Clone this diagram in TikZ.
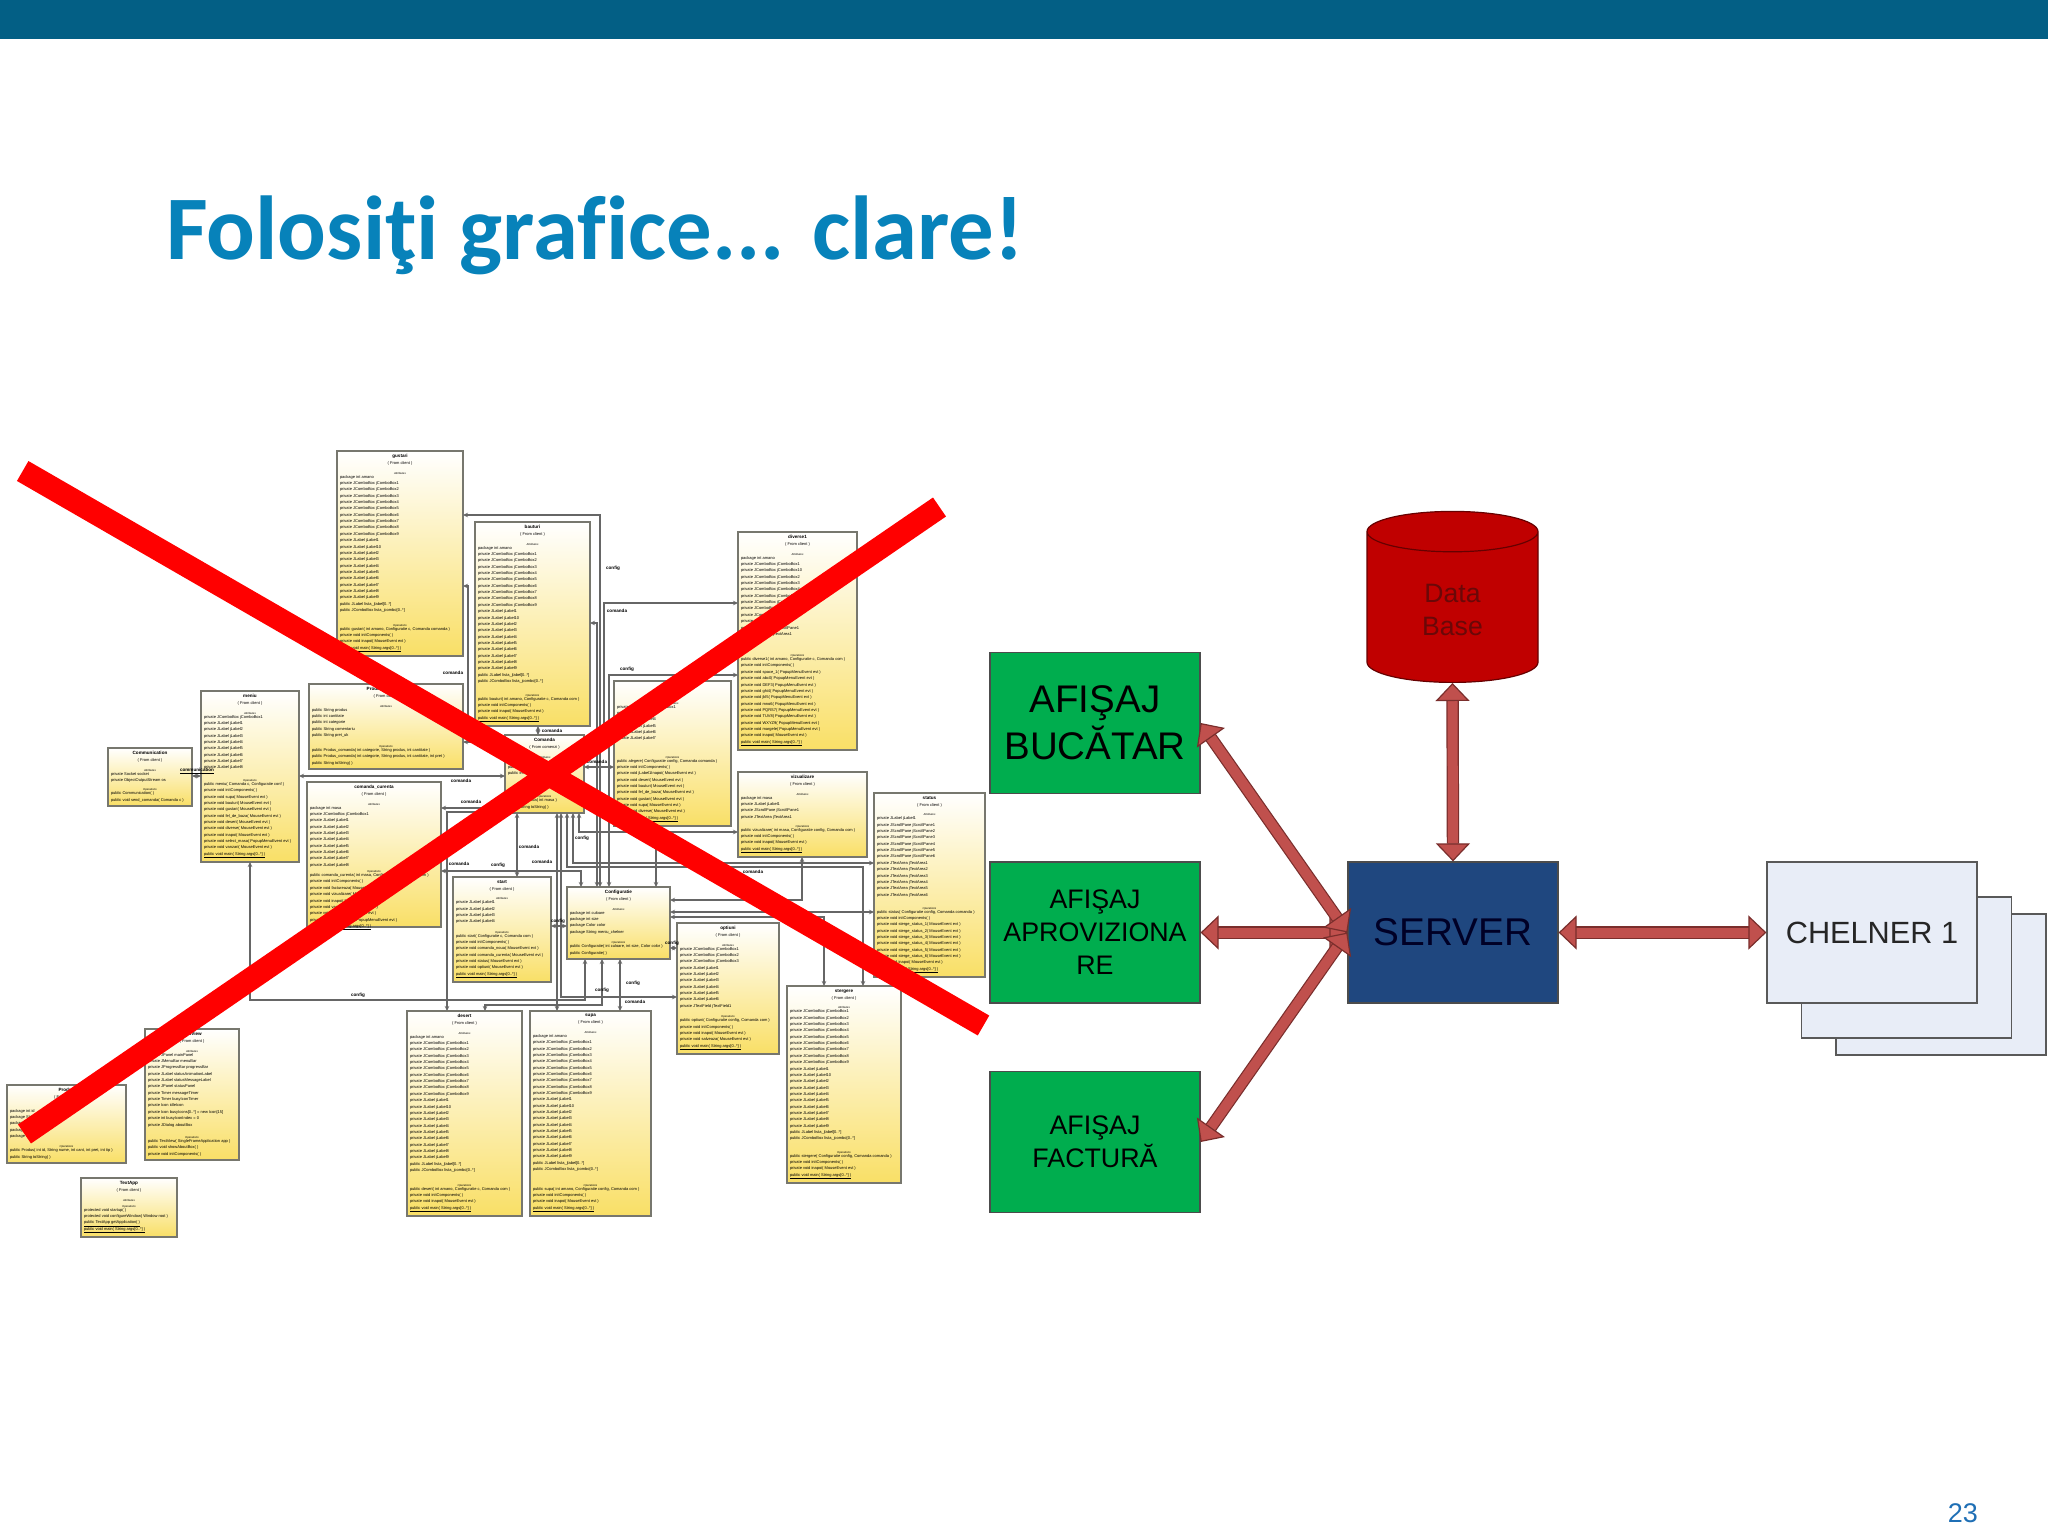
\documentclass[tikz,border=0pt]{standalone}
\usepackage{fontspec}
\setmainfont{Liberation Sans}
\newfontfamily\titlefont[Ligatures=CommonOff]{Carlito}
\usetikzlibrary{arrows.meta,shapes.geometric}

\definecolor{bandblue}{HTML}{035F85}
\definecolor{titleblue}{HTML}{0782BA}
\definecolor{pageblue}{HTML}{1F6FB5}
\definecolor{boxgreen}{HTML}{00AD4E}
\definecolor{serverblue}{HTML}{1F477F}
\definecolor{chelnerfill}{HTML}{E8EDF7}
\definecolor{dbred}{HTML}{C00000}
\definecolor{dbtext}{HTML}{6A0808}
\definecolor{arrowred}{HTML}{C0504D}
\definecolor{arrowdark}{HTML}{7A2E2C}
\definecolor{umlyellow}{HTML}{F9DF66}
\definecolor{umlgray}{HTML}{77776E}
\definecolor{linkgray}{HTML}{666666}

\tikzset{
	bigbox/.style={draw=black!70,line width=1.2pt,minimum width=210pt,minimum height=141pt,align=center},
	greenbox/.style={bigbox,fill=boxgreen,text=black},
	chelnerbox/.style={bigbox,fill=chelnerfill,draw=black!65},
	bigarrow/.style={draw=arrowdark,line width=1.2pt,double=arrowred,double distance=10pt,
		{Triangle[width=34pt,length=18pt,line width=1.2pt,fill=arrowred,color=arrowdark]}-{Triangle[width=34pt,length=18pt,line width=1.2pt,fill=arrowred,color=arrowdark]}},
	classbox/.style={draw=umlgray,line width=1.3pt,top color=white,bottom color=umlyellow,anchor=north west,inner xsep=3pt,inner ysep=1.5pt,outer sep=0pt},
	link/.style={draw=linkgray,line width=1.1pt,{Stealth[length=5pt,width=4.5pt]}-{Stealth[length=5pt,width=4.5pt]}},
	linklabel/.style={font=\fontsize{4.6}{5}\selectfont\bfseries},
	crossline/.style={draw=red,line width=23pt},
}

% one line of a class, the little section captions, and a whole class
\newcommand{\cln}[1]{\hbox{#1}}
\newcommand{\clcap}[1]{\hbox to\hsize{\hfil\fontsize{2.8}{6.35}\selectfont\itshape #1\hfil}}
\newcommand{\clops}{\vfill\clcap{Operations}\vskip-2.4pt}
\newcommand{\umlclass}[6][client]{%
	\node[classbox,minimum width=#4pt,minimum height=#5pt] (#2) at (#3) {\parbox[t][\dimexpr#5pt-3pt\relax][t]{\dimexpr#4pt-6pt\relax}{%
		\fontsize{4}{6.35}\selectfont
		\vskip1.5pt
		\hbox to\hsize{\hfil\fontsize{4.6}{6.35}\selectfont\bfseries\csname classtitle\endcsname\hfil}
		\vskip0.9pt
		\hbox to\hsize{\hfil( From #1 )\hfil}
		\vskip3.3pt
		\clcap{Attributes}
		\vskip-2.4pt
		#6
		\vskip2.5pt}};}
\newcommand{\combos}[1]{\foreach \i in {#1} {\cln{private JComboBox jComboBox\i}}}
\newcommand{\labels}[1]{\foreach \i in {#1} {\cln{private JLabel jLabel\i}}}
\newcommand{\listas}{\cln{public JLabel lista\_jlabel[0..*]}\cln{public JComboBox lista\_jcombo[0..*]}}
\newcommand{\foodattrs}{\combos{1,2,3,4,5,6,7,8,9}\labels{1,10,2,3,4,5,6,7,8,9}\listas}
\newcommand{\clinit}{\cln{private void initComponents( )}}
\newcommand{\clback}{\cln{private void inapoi( MouseEvent evt )}}
\newcommand{\clmain}{\cln{\underline{public void main( String args[0..*] )}}}

\begin{document}
\begin{tikzpicture}[x=1pt,y=-1pt]
	\fill[white] (0,0) rectangle (2048,1536);
	\useasboundingbox (0,0) rectangle (2048,1536);
	\fill[bandblue] (0,0) rectangle (2048,39);
	\node [anchor=base west,inner sep=0pt,text=titleblue,font=\titlefont\fontsize{90.8}{92}\selectfont\bfseries] (title) at (166,259) {Folosiţi grafice... clare!};
	\node [anchor=base east,inner sep=0pt,text=pageblue,font=\fontsize{27}{30}\selectfont] (pagenr) at (1978,1522) {23};

	% the class diagram
	\def\classtitle{gustari}
	\umlclass{gustari}{337,451}{126}{205}{\cln{package int amano}\foodattrs\clops\cln{public gustari( int amano, Configuratie c, Comanda comanda )}\clinit\clback\clmain}
	\def\classtitle{bauturi}
	\umlclass{bauturi}{475,522}{115}{204}{\cln{package int amano}\foodattrs\clops\cln{public bauturi( int amano, Configuratie c, Comanda com )}\clinit\clback\clmain}
	\def\classtitle{diverse1}
	\umlclass{diverse}{738,532}{119}{218}{\cln{package int amano}\combos{1,10,2,3,4,5,6,7,8}\labels{1}\cln{private JScrollPane jScrollPane1}\cln{private JTextArea jTextArea1}\clops\cln{public diverse1( int amano, Configuratie c, Comanda com )}\clinit\cln{private void space\_1( PopupMenuEvent evt )}\cln{private void abc0( PopupMenuEvent evt )}\cln{private void DEF3( PopupMenuEvent evt )}\cln{private void ghi4( PopupMenuEvent evt )}\cln{private void jkl5( PopupMenuEvent evt )}\cln{private void mno6( PopupMenuEvent evt )}\cln{private void PQRS7( PopupMenuEvent evt )}\cln{private void TUV8( PopupMenuEvent evt )}\cln{private void WXYZ9( PopupMenuEvent evt )}\cln{private void margele( PopupMenuEvent evt )}\clback\clmain}
	\def\classtitle{vizualizare}
	\umlclass{vizualizare}{738,772}{129}{85}{\cln{package int masa}\labels{1}\cln{private JScrollPane jScrollPane1}\cln{private JTextArea jTextArea1}\clops\cln{public vizualizare( int masa, Configuratie config, Comanda com )}\clinit\clback\clmain}
	\def\classtitle{status}
	\umlclass{status}{874,793}{111}{184}{\labels{1}\foreach \i in {1,...,6} {\cln{private JScrollPane jScrollPane\i}}\foreach \i in {1,...,6} {\cln{private JTextArea jTextArea\i}}\clops\cln{public status( Configuratie config, Comanda comanda )}\clinit\foreach \i in {1,...,6} {\cln{private void sterge\_status\_\i( MouseEvent evt )}}\clback\clmain}
	\def\classtitle{meniu}
	\umlclass{meniu}{201,691}{98}{171}{\combos{1}\labels{1,2,3,4,5,6,7,8}\clops\cln{public meniu( Comanda c, Configuratie conf )}\clinit\foreach \t in {supa,bauturi,gustari,fel\_de\_baza,desert,diverse,inapoi} {\cln{private void \t( MouseEvent evt )}}\cln{private void select\_masa( PopupMenuEvent evt )}\cln{private void vanzari( MouseEvent evt )}\clmain}
	\def\classtitle{Produs\_comanda}
	\umlclass{produscomanda}{309,684}{154}{85}{\cln{public String produs}\cln{public int cantitate}\cln{public int categorie}\cln{public String comentariu}\cln{public String pret\_uk}\clops\cln{public Produs\_comanda( int categorie, String produs, int cantitate )}\cln{public Produs\_comanda( int categorie, String produs, int cantitate, int pret )}\cln{public String toString( )}}
	\def\classtitle{Communication}
	\umlclass{communication}{108,748}{84}{58}{\cln{private Socket socket}\cln{private ObjectOutputStream os}\clops\cln{public Communication( )}\cln{public void send\_comanda( Comanda c )}}
	\def\classtitle{comanda\_curenta}
	\umlclass{comandacurenta}{307,782}{134}{145}{\cln{package int masa}\combos{1}\labels{1,2,3,4,5,6,7,8}\clops\cln{public comanda\_curenta( int masa, Configuratie c, Comanda com )}\clinit\foreach \t in {factureaza,vizualizare,inapoi,vanzari,sterge} {\cln{private void \t( MouseEvent evt )}}\cln{private void select\_masa( PopupMenuEvent evt )}\clmain}
	\def\classtitle{Comanda}
	\umlclass[comenzi]{comanda}{505,735}{79}{78}{\cln{public int masa}\cln{public int nr}\cln{public int total}\clops\cln{public Comanda( int masa )}\cln{public String toString( )}}
	\def\classtitle{alegere}
	\umlclass{alegere}{614,681}{117}{145}{\cln{private JComboBox jComboBox1}\labels{3,4,5,6,7}\clops\cln{public alegere( Configuratie config, Comanda comanda )}\clinit\foreach \t in {jLabel1Inapoi,desert,bauturi,fel\_de\_baza,gustari,supa,diverse} {\cln{private void \t( MouseEvent evt )}}\clmain}
	\def\classtitle{start}
	\umlclass{start}{453,877}{98}{105}{\labels{1,2,3,4}\clops\cln{public start( Configuratie c, Comanda com )}\clinit\foreach \t in {comanda\_noua,comanda\_curenta,status,optiuni} {\cln{private void \t( MouseEvent evt )}}\clmain}
	\def\classtitle{Configuratie}
	\umlclass{configuratie}{567,887}{103}{72}{\cln{package int culoare}\cln{package int size}\cln{package Color color}\cln{package String meniu\_chelner}\clops\cln{public Configuratie( int culoare, int size, Color color )}\cln{public Configuratie( )}}
	\def\classtitle{optiuni}
	\umlclass{optiuni}{677,923}{102}{131}{\combos{1,2,3}\labels{1,2,3,4,5,6}\cln{private JTextField jTextField1}\clops\cln{public optiuni( Configuratie config, Comanda com )}\clinit\clback\cln{private void salveaza( MouseEvent evt )}\clmain}
	\def\classtitle{stergere}
	\umlclass{stergere}{787,986}{114}{197}{\foodattrs\clops\cln{public stergere( Configuratie config, Comanda comanda )}\clinit\clback\clmain}
	\def\classtitle{supa}
	\umlclass{supa}{530,1011}{121}{205}{\cln{package int amano}\foodattrs\clops\cln{public supa( int amano, Configuratie config, Comanda com )}\clinit\clback\clmain}
	\def\classtitle{desert}
	\umlclass{desert}{407,1011}{115}{205}{\cln{package int amano}\foodattrs\clops\cln{public desert( int amano, Configuratie c, Comanda com )}\clinit\clback\clmain}
	\def\classtitle{Produs}
	\umlclass{produs}{7,1085}{119}{78}{\cln{package int id}\cln{package String nume}\cln{package int cant}\cln{package int pret}\cln{package int tip}\clops\cln{public Produs( int id, String nume, int cant, int pret, int tip )}\cln{public String toString( )}}
	\def\classtitle{TextView}
	\umlclass{textview}{145,1029}{94}{131}{\cln{private JPanel mainPanel}\cln{private JMenuBar menuBar}\cln{private JProgressBar progressBar}\cln{private JLabel statusAnimationLabel}\cln{private JLabel statusMessageLabel}\cln{private JPanel statusPanel}\cln{private Timer messageTimer}\cln{private Timer busyIconTimer}\cln{private Icon idleIcon}\cln{private Icon busyIcons[0..*] = new Icon[15]}\cln{private int busyIconIndex = 0}\cln{private JDialog aboutBox}\clops\cln{public TextView( SingleFrameApplication app )}\cln{public void showAboutBox( )}\cln{private void initComponents( )}}
	\def\classtitle{TextApp}
	\umlclass{textapp}{81,1178}{96}{59}{\clops\cln{protected void startup( )}\cln{protected void configureWindow( Window root )}\cln{\underline{public TextApp getApplication( )}}\clmain}

	% links between classes
	\draw[link] (communication.east |- 0,776) -- (meniu.west |- 0,776);
	\draw[link] (gustari.east |- 0,515) -| (600,0 |- configuratie.north);
	\draw[link] (gustari.east |- 0,586) -| (468,742) -- (comanda.west |- 0,742);
	\draw[link] (produscomanda.east |- 0,742) -- (comanda.west |- 0,742);
	\draw[link] (bauturi.east |- 0,623) -| (597,0 |- configuratie.north);
	\draw[link] (bauturi.south -| 538,0) -- (comanda.north -| 538,0);
	\draw[link] (meniu.east |- 0,776) -- (comanda.west |- 0,776);
	\draw[link] (meniu.south) |- (585,1000) -- (585,0 |- configuratie.south);
	\draw[link] (comandacurenta.east |- 0,808) -- (comanda.west |- 0,808);
	\draw[link] (comandacurenta.east |- 0,871) -| (581,0 |- configuratie.north);
	\draw[link] (desert.north -| 447,0) |- (comanda.west |- 0,812);
	\draw[link] (desert.north -| 485,0) |- (602,1005) -- (602,0 |- configuratie.south);
	\draw[link] (start.north -| 517,0) -- (comanda.south -| 517,0);
	\draw[link] (start.east |- 0,926) -- (configuratie.west |- 0,926);
	\draw[link] (supa.north -| 620,0) -- (configuratie.south -| 620,0);
	\draw[link] (supa.north -| 557,0) -- (comanda.south -| 557,0);
	\draw[link] (comanda.south -| 561,0) |- (optiuni.west |- 0,997);
	\draw[link] (comanda.south -| 567,0) |- (863,867) -- (stergere.north -| 863,0);
	\draw[link] (comanda.south -| 573,0) |- (status.west |- 0,863);
	\draw[link] (comanda.south -| 579,0) |- (vizualizare.west |- 0,832);
	\draw[link] (comanda.east |- 0,767) -- (alegere.west |- 0,767);
	\draw[link] (comanda.east |- 0,737) -| (604,603) -- (diverse.west |- 0,603);
	\draw[link] (diverse.west |- 0,675) -| (609,0 |- configuratie.north);
	\draw[link] (alegere.south -| 656,0) -- (configuratie.north -| 656,0);
	\draw[link] (vizualizare.south -| 802,0) |- (configuratie.east |- 0,900);
	\draw[link] (configuratie.east |- 0,912) -- (status.west |- 0,912);
	\draw[link] (configuratie.east |- 0,917) -| (stergere.north -| 824,0);
	\draw[link] (configuratie.east |- 0,948) -- (optiuni.west |- 0,948);
	\foreach \p [count=\n] in {(453,673),(461,781),(471,802),(459,864),(552,731),(597,762),(617,611),(529,847),(542,862),(753,872),(635,1002)}
		\node[linklabel] (comandalabel\n) at \p {comanda};
	\foreach \p [count=\n] in {(613,568),(627,669),(582,838),(498,865),(558,921),(672,943),(633,983),(602,990),(358,995)}
		\node[linklabel] (configlabel\n) at \p {config};
	\node[linklabel] (communicationlabel) at (197,771) {\underline{communication}};

	% the red cross
	\coordinate (crossa) at (22.7,471);
	\coordinate (crossb) at (983.5,1025.5);
	\coordinate (crossc) at (939.5,507);
	\coordinate (crossd) at (24.5,1134);
	\draw[crossline] (crossa) -- (crossb);
	\draw[crossline] (crossc) -- (crossd);

	% the clear diagram
	\node[greenbox,font=\fontsize{38.5}{47}\selectfont] (bucatar) at (1095,723) {AFIŞAJ\\BUCĂTAR};
	\node[greenbox,font=\fontsize{26.8}{33}\selectfont] (aprovizionare) at (1095,932.5) {AFIŞAJ\\APROVIZIONA\\RE};
	\node[greenbox,font=\fontsize{26.8}{33}\selectfont] (factura) at (1095,1142) {AFIŞAJ\\FACTURĂ};
	\node[bigbox,fill=serverblue,text=black!85!blue,font=\fontsize{38.7}{47}\selectfont] (server) at (1453,932.5) {SERVER};
	\node[cylinder,shape border rotate=90,aspect=0.6,anchor=south,draw=black!60!red,line width=1.2pt,fill=dbred,minimum width=171pt,minimum height=171pt,align=center,text=dbtext,font=\fontsize{26.6}{33}\selectfont] (database) at (1452.5,683) {Data\\Base};
	\node[chelnerbox] (chelnerc) at (1941,984.5) {};
	\node[chelnerbox] (chelnerb) at (1906.5,967.5) {};
	\node[chelnerbox,text=black!85,font=\fontsize{30.7}{36}\selectfont] (chelnera) at (1872,932.5) {CHELNER 1};
	\draw[bigarrow] (database.south) -- (server.north);
	\draw[bigarrow] (server.east) -- (chelnera.west);
	\draw[bigarrow] (server.west) -- (aprovizionare.east);
	\draw[bigarrow] (server.west) -- (bucatar.east);
	\draw[bigarrow] (server.west) -- (factura.east);
\end{tikzpicture}
\end{document}
